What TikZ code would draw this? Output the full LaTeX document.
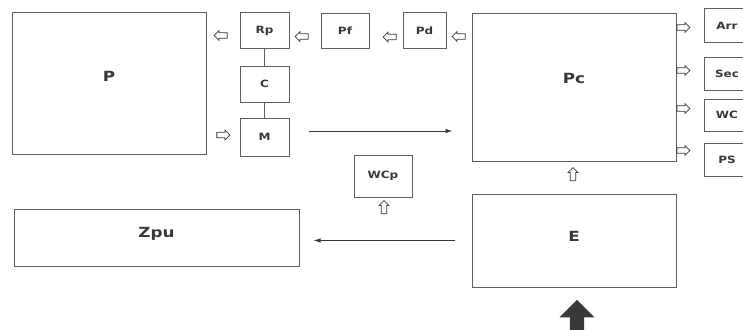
\documentclass[tikz,border=0pt]{standalone}
\usepackage{fontspec}
\setmainfont{DejaVu Sans}[FakeStretch=1.2]
\usetikzlibrary{arrows.meta,positioning,shapes.arrows}
\definecolor{ink}{HTML}{383838}
\definecolor{frame}{HTML}{5E5E5E}

\begin{document}
\begin{tikzpicture}[
  x=1pt, y=1pt,
  font=\bfseries\fontsize{10}{11}\selectfont,
  node distance=15pt and 30pt,
  box/.style={draw=frame, line width=1pt, minimum width=49pt, minimum height=36pt, inner sep=0pt, text=ink},
  tag/.style={text=ink, font=\bfseries\fontsize{14}{16}\selectfont},
  sidebox/.style={box, minimum width=46pt, minimum height=33pt},
  hollow/.style={single arrow, draw=ink, line width=0.8pt, minimum height=13pt, inner xsep=0pt, inner ysep=2.3pt, single arrow head extend=2.2pt},
  hollowup/.style={hollow, shape border rotate=90, inner xsep=2.3pt, inner ysep=0pt},
  conn/.style={-{Latex[length=7pt,width=4.5pt]}, draw=ink, line width=0.9pt}
]
  \useasboundingbox (0,0) rectangle (743,-329);
  \clip (0,0) rectangle (743,-329);

  % upper row
  \node[box, minimum width=194pt, minimum height=141pt, label={[tag, yshift=7pt]center:P}] (P) at (109,-83.5) {};
  \node[box, right=33pt of P.north east, anchor=north west] (Rp) {Rp};
  \node[box, below=16pt of Rp] (C) {C};
  \node[box, below=15pt of C, minimum height=38pt] (M) {M};
  \node[box, right=31pt of Rp, minimum width=48pt, minimum height=35pt] (Pf) {Pf};
  \node[box, right=33pt of Pf, minimum width=43pt] (Pd) {Pd};
  \node[box, right=25pt of Pd.north east, anchor=north west, yshift=-1pt, minimum width=204pt, minimum height=147pt, label={[tag, yshift=9pt]center:Pc}] (Pc) {};

  % outputs on the right
  \node[sidebox, right=27pt of Pc.north east, anchor=north west, yshift=5pt, minimum height=34pt] (Arr) {Arr};
  \node[sidebox, below=13pt of Arr] (Sec) {Sec};
  \node[sidebox, below=8pt of Sec, minimum height=32pt] (WC) {WC};
  \node[sidebox, below=11pt of WC] (PS) {PS};

  % lower row
  \node[box, below=32pt of Pc, minimum width=204pt, minimum height=93pt, label={[tag, yshift=4pt]center:E}] (E) {};
  \node[box, left=172pt of E, yshift=3pt, minimum width=285pt, minimum height=57pt, label={[tag, yshift=4pt]center:Zpu}] (Zpu) {};
  \node[box, right=54pt of Zpu.north east, anchor=south west, yshift=11pt, minimum width=58pt, minimum height=42pt] (WCp) {WCp};

  % hollow arrows
  \node[hollow, shape border rotate=180] (aRpP) at ([xshift=-17.5pt, yshift=-4.5pt]Rp.west) {};
  \node[hollow, shape border rotate=180] (aPfRp) at ([xshift=-17.5pt, yshift=-5.5pt]Pf.west) {};
  \node[hollow, shape border rotate=180] (aPdPf) at ([xshift=-11.5pt, yshift=-6pt]Pd.west) {};
  \node[hollow, shape border rotate=180] (aPcPd) at ([xshift=-11.5pt, yshift=-23pt]Pc.north west) {};
  \node[hollow] (aPM) at ([xshift=-17.5pt, yshift=2pt]M.west) {};
  \node[hollow] (aArr) at ([xshift=5.5pt, yshift=-14pt]Pc.north east) {};
  \node[hollow] (aSec) at ([xshift=5.5pt, yshift=-57pt]Pc.north east) {};
  \node[hollow] (aWC) at ([xshift=5.5pt, yshift=-95pt]Pc.north east) {};
  \node[hollow] (aPS) at ([xshift=5.5pt, yshift=-137pt]Pc.north east) {};
  \node[hollowup] (aEPc) at ([xshift=-1pt, yshift=-14pt]Pc.south) {};
  \node[hollowup] (aWCp) at ([xshift=1pt, yshift=-11pt]WCp.south) {};

  % input into E
  \node[single arrow, fill=ink, shape border rotate=90, minimum height=36pt, inner xsep=7pt, inner ysep=0pt, single arrow head extend=10.5pt, anchor=tip] (feed) at ([xshift=3pt, yshift=-12pt]E.south) {};

  % connectors
  \draw[draw=frame, line width=1pt] (Rp) -- (C);
  \draw[draw=frame, line width=1pt] (C) -- (M);
  \draw[conn] ([xshift=19pt, yshift=6pt]M.east) -- ([xshift=-19pt, yshift=6pt]M.east -| Pc.west);
  \draw[conn] ([xshift=-17pt]E.west) -- ([xshift=14pt]E.west -| Zpu.east);
\end{tikzpicture}
\end{document}
